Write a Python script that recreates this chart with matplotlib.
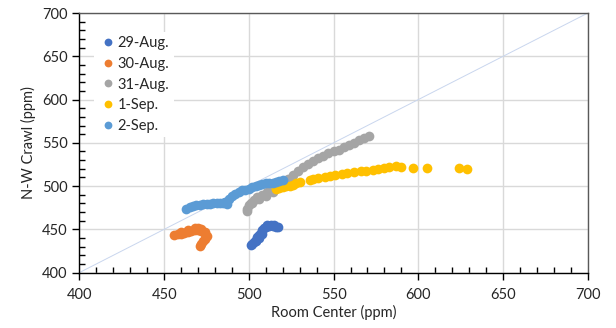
import matplotlib
matplotlib.use("Agg")
import matplotlib.pyplot as plt
from matplotlib.ticker import MultipleLocator

plt.rcParams['font.family'] = ['Lato', 'DejaVu Sans']

# Room Center (x) vs N-W Crawl (y), ppm
aug29_x = [501, 502, 503, 504, 505, 506, 507, 508, 509, 510, 512, 514, 516, 517,
           504, 506, 508, 511, 513, 515]
aug29_y = [432, 433, 435, 438, 441, 444, 446, 449, 451, 453, 454, 454, 453, 453,
           436, 440, 445, 455, 455, 455]

aug30_x = [456, 458, 460, 462, 464, 466, 468, 470, 472, 474, 475, 474, 473, 472, 471,
           460, 464, 468, 470, 472, 474]
aug30_y = [444, 445, 445, 446, 447, 448, 449, 449, 448, 445, 442, 439, 436, 433, 431,
           447, 449, 451, 451, 450, 447]

aug31_x = [499, 499, 500, 501, 503, 505, 508, 511, 514, 517, 520, 523, 526, 529,
           532, 535, 538, 541, 544, 547, 550, 553, 556, 559, 562, 565, 568, 571,
           502, 506, 510, 514]
aug31_y = [471, 474, 478, 481, 484, 487, 490, 493, 496, 499, 503, 508, 513, 518,
           522, 526, 529, 532, 535, 538, 540, 542, 545, 547, 550, 553, 556, 558,
           480, 485, 489, 493]

sep1_x = [516, 518, 520, 522, 524, 526, 528, 530, 536, 538, 541, 545, 548, 551,
          555, 558, 562, 566, 569, 573, 576, 580, 583, 587, 590, 597, 605, 624, 629]
sep1_y = [497, 498, 499, 500, 500, 501, 503, 505, 507, 508, 509, 511, 512, 513,
          514, 515, 516, 517, 518, 519, 520, 521, 522, 523, 522, 521, 521, 521, 520]

sep2_x = [463, 465, 467, 469, 471, 473, 475, 477, 479, 481, 483, 485, 487, 486,
          488, 490, 492, 494, 496, 498, 500, 502, 504, 506, 508, 510, 512, 514,
          516, 518, 520]
sep2_y = [474, 476, 477, 478, 478, 479, 479, 479, 480, 480, 481, 480, 479, 482,
          485, 488, 491, 493, 495, 496, 497, 499, 500, 501, 502, 503, 503, 504,
          505, 506, 507]

series = [
    ('29-Aug.', aug29_x, aug29_y, '#4472C4'),
    ('30-Aug.', aug30_x, aug30_y, '#ED7D31'),
    ('31-Aug.', aug31_x, aug31_y, '#A5A5A5'),
    ('1-Sep.', sep1_x, sep1_y, '#FFC000'),
    ('2-Sep.', sep2_x, sep2_y, '#5B9BD5'),
]

fig = plt.figure(figsize=(6.16, 3.28), dpi=100)
ax = fig.add_axes([0.129, 0.169, 0.825, 0.791])

# 1:1 reference line
ax.plot([400, 700], [400, 700], color='#C9D6EE', lw=0.7, zorder=1)

for name, xs, ys, col in series:
    ax.plot(xs, ys, 'o', ms=7, color=col, mec='none', label=name, zorder=3)

ax.set_xlim(400, 700)
ax.set_ylim(400, 700)
ax.xaxis.set_major_locator(MultipleLocator(50))
ax.yaxis.set_major_locator(MultipleLocator(50))
ax.xaxis.set_minor_locator(MultipleLocator(10))
ax.yaxis.set_minor_locator(MultipleLocator(10))
ax.grid(True, which='major', color='#D9D9D9', lw=1, zorder=0)
ax.set_axisbelow(True)

ax.tick_params(which='major', direction='out', length=5, width=1, labelsize=10.5,
               colors='black', labelcolor='#262626')
ax.tick_params(which='minor', direction='in', length=4, width=1)
ax.tick_params(axis='x', pad=6)

for s in ['left', 'bottom']:
    ax.spines[s].set_color('black')
    ax.spines[s].set_linewidth(1)
for s in ['top', 'right']:
    ax.spines[s].set_color('#595959')
    ax.spines[s].set_linewidth(1)

ax.set_xlabel('Room Center (ppm)', fontsize=10.5, color='#262626', labelpad=2)
ax.set_ylabel('N-W Crawl (ppm)', fontsize=10.5, color='#262626', labelpad=4)

leg = ax.legend(loc='upper left', bbox_to_anchor=(0.015, 0.955), frameon=True,
                fontsize=10.5, handletextpad=0.1, handlelength=1.2,
                labelspacing=0.45, borderpad=0.3, markerscale=0.8)
leg.get_frame().set_edgecolor('none')
leg.get_frame().set_facecolor('white')
leg.get_frame().set_alpha(1)
for t in leg.get_texts():
    t.set_color('#262626')

fig.savefig('out.png', dpi=100)
